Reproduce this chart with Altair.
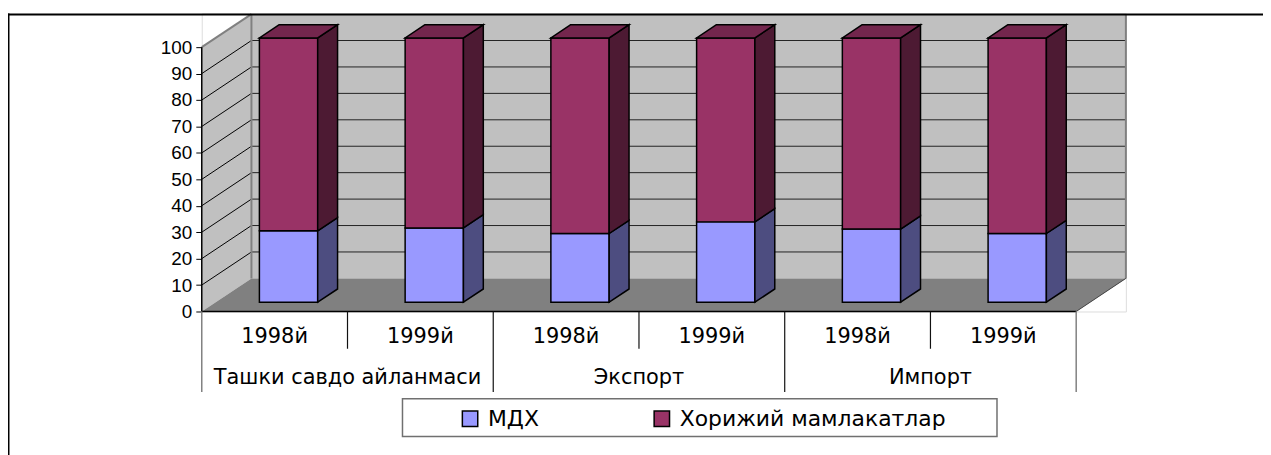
import altair as alt
import pandas as pd

# ---------------- data ----------------
groups = ["Ташки савдо айланмаси", "Экспорт", "Импорт"]
years = ["1998й", "1999й"]
series = ["МДХ", "Хорижий мамлакатлар"]
mdx = [27.0, 28.1, 26.0, 30.4, 27.7, 26.0]
foreign = [73.0, 71.9, 74.0, 69.6, 72.3, 74.0]
y_ticks = list(range(0, 101, 10))

# ---------------- styling ----------------
front_colors = ["#9999ff", "#993366"]
side_colors = ["#4d4d80", "#4d1a33"]
top_color = "#73264d"
wall_color = "#c0c0c0"
floor_color = "#808080"

N = len(groups) * len(years)
W, H = 930, 300
DX = 50 / 146.667          # depth of the 3D box, in category units
DY = 12.52                 # depth of the 3D box, in value units
F0, FB, HW = 0.28, 0.40, 0.2
XMAX = N + DX
YMAX = H / 2.66

xs = alt.Scale(domain=[0, XMAX], nice=False, zero=False)
ys = alt.Scale(domain=[0, YMAX], nice=False, zero=False)
yaxis = alt.Axis(values=y_ticks, title=None, domain=False, grid=False,
                 tickSize=6, tickColor="black", tickWidth=1,
                 labelFont="Liberation Sans", labelFontSize=19,
                 labelColor="black", labelPadding=4)

cats = [(g, y) for g in groups for y in years]

front_rows, side_rows, top_rows = [], [], []
for i in range(N):
    xl = i + 0.5 + F0 * DX - HW
    xr = xl + 2 * HW
    base = F0 * DY
    vals = [mdx[i], foreign[i]]
    b = base
    for s, v in enumerate(vals):
        front_rows.append(dict(x=xl, x2=xr, y=b, y2=b + v, series=series[s]))
        sid = f"{i}-{s}"
        side_rows.append(dict(id=sid, x=xr, lo=b, hi=b + v, col=side_colors[s]))
        side_rows.append(dict(id=sid, x=xr + FB * DX, lo=b + FB * DY,
                              hi=b + v + FB * DY, col=side_colors[s]))
        b += v
    top_rows.append(dict(id=i, y=b, x=xl, x2=xr))
    top_rows.append(dict(id=i, y=b + FB * DY, x=xl + FB * DX, x2=xr + FB * DX))

front = pd.DataFrame(front_rows)
side = pd.DataFrame(side_rows)
top = pd.DataFrame(top_rows)

back = pd.DataFrame([dict(x=DX, x2=XMAX, y=DY, y2=100 + DY)])
sidewall = pd.DataFrame([dict(x=0, lo=0, hi=100), dict(x=DX, lo=DY, hi=100 + DY)])
floor = pd.DataFrame([dict(y=0, x=0, x2=N), dict(y=DY, x=DX, x2=N + DX)])

grid_back = pd.DataFrame([dict(x=DX, x2=XMAX, y=v + DY) for v in y_ticks[1:-1]])
grid_side = pd.DataFrame([dict(x=0, x2=DX, y=v, y2=v + DY) for v in y_ticks[1:-1]])
edges_gray = pd.DataFrame([
    dict(x=0, x2=DX, y=100, y2=100 + DY),
    dict(x=DX, x2=DX, y=DY, y2=100 + DY),
    dict(x=XMAX, x2=XMAX, y=DY, y2=100 + DY),
])
floor_edge = pd.DataFrame([dict(x=N, x2=XMAX, y=0, y2=DY)])
axis_lines = pd.DataFrame([
    dict(x=0, x2=0, y=0, y2=100),
    dict(x=0, x2=N, y=0, y2=0),
])

sep_inner = pd.DataFrame([dict(x=k) for k in range(2, N, 2)])
sep_short = pd.DataFrame([dict(x=k) for k in range(1, N, 2)])
sep_outer = pd.DataFrame([dict(x=0), dict(x=N)])
year_lbl = pd.DataFrame([dict(x=i + 0.5, t=c[1]) for i, c in enumerate(cats)])
group_lbl = pd.DataFrame([dict(x=2 * g + 1, t=groups[g]) for g in range(len(groups))])

X = lambda f="x": alt.X(f"{f}:Q", scale=xs, axis=None)
Y = lambda f="y": alt.Y(f"{f}:Q", scale=ys, axis=yaxis)

layers = []
layers.append(alt.Chart(back).mark_rect(fill=wall_color).encode(
    x=X(), x2="x2:Q", y=Y(), y2="y2:Q"))
layers.append(alt.Chart(sidewall).mark_area(fill=wall_color).encode(
    x=X(), y=Y("lo"), y2="hi:Q"))
layers.append(alt.Chart(floor).mark_area(fill=floor_color, orient="horizontal").encode(
    y=Y(), x=X(), x2="x2:Q"))
layers.append(alt.Chart(grid_back).mark_rule(color="#222", strokeWidth=1).encode(
    x=X(), x2="x2:Q", y=Y()))
layers.append(alt.Chart(grid_side).mark_rule(color="#000", strokeWidth=1).encode(
    x=X(), x2="x2:Q", y=Y(), y2="y2:Q"))
layers.append(alt.Chart(edges_gray).mark_rule(color="#808080", strokeWidth=2).encode(
    x=X(), x2="x2:Q", y=Y(), y2="y2:Q"))
layers.append(alt.Chart(floor_edge).mark_rule(color="#404040", strokeWidth=1).encode(
    x=X(), x2="x2:Q", y=Y(), y2="y2:Q"))

layers.append(alt.Chart(front).mark_rect(stroke="black", strokeWidth=1.5).encode(
    x=X(), x2="x2:Q", y=Y(), y2="y2:Q",
    fill=alt.Fill("series:N", sort=series,
                  scale=alt.Scale(domain=series, range=front_colors),
                  legend=alt.Legend(orient="none", legendX=259, legendY=397,
                                    direction="horizontal", title=None,
                                    symbolType="square", symbolSize=240,
                                    symbolStrokeColor="black", symbolStrokeWidth=1.5,
                                    symbolOpacity=1,
                                    labelFont="DejaVu Sans", labelFontSize=22,
                                    labelColor="black", labelOffset=7,
                                    labelLimit=500,
                                    columnPadding=112, padding=0))))
layers.append(alt.Chart(side).mark_area(stroke="black", strokeWidth=1.5).encode(
    x=X(), y=Y("lo"), y2="hi:Q", detail="id:N",
    fill=alt.Fill("col:N", scale=None)))
layers.append(alt.Chart(top).mark_area(orient="horizontal", fill=top_color,
                                       stroke="black", strokeWidth=1.5).encode(
    y=Y(), x=X(), x2="x2:Q", detail="id:N"))

layers.append(alt.Chart(axis_lines).mark_rule(color="black", strokeWidth=1.5).encode(
    x=X(), x2="x2:Q", y=Y(), y2="y2:Q"))

layers.append(alt.Chart(sep_inner).mark_rule(color="#111", strokeWidth=1.2).encode(
    x=X(), y=alt.value(H), y2=alt.value(H + 81)))
layers.append(alt.Chart(sep_short).mark_rule(color="#111", strokeWidth=1.2).encode(
    x=X(), y=alt.value(H), y2=alt.value(H + 37.5)))
layers.append(alt.Chart(sep_outer).mark_rule(color="#808080", strokeWidth=1.5).encode(
    x=X(), y=alt.value(H), y2=alt.value(H + 81)))
layers.append(alt.Chart(year_lbl).mark_text(font="DejaVu Sans", fontSize=21,
                                            color="black", baseline="alphabetic").encode(
    x=X(), y=alt.value(331.3), text="t:N"))
layers.append(alt.Chart(group_lbl).mark_text(font="DejaVu Sans", fontSize=21,
                                             color="black", baseline="alphabetic").encode(
    x=X(), y=alt.value(373), text="t:N"))

layers.append(alt.Chart(pd.DataFrame([dict(a=0)])).mark_rect(
    fill="white", stroke="#707070", strokeWidth=1.5).encode(
    x=alt.value(202), x2=alt.value(800.3), y=alt.value(387.7), y2=alt.value(425.7)))
layers.append(alt.Chart(pd.DataFrame([dict(a=0)])).mark_rule(color="black", strokeWidth=2).encode(
    x=alt.value(-195), x2=alt.value(1070), y=alt.value(1)))
layers.append(alt.Chart(pd.DataFrame([dict(a=0)])).mark_rule(color="black", strokeWidth=2).encode(
    x=alt.value(-194.5), y=alt.value(0), y2=alt.value(445)))

chart = alt.layer(*layers).properties(
    width=W, height=H,
    padding={"left": 195, "top": 4, "right": 138, "bottom": 143},
    autosize=alt.AutoSizeParams(type="none"),
).configure_view(stroke=None).configure(background="white")

chart.save("out.html", embed_options={"renderer": "svg", "actions": False})
